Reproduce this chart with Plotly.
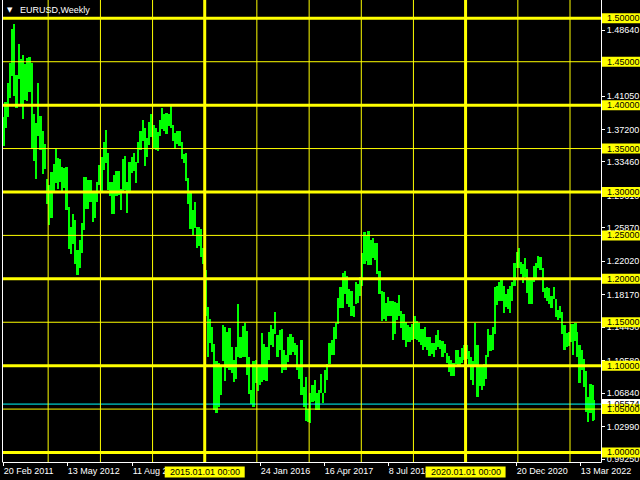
import plotly.graph_objects as go
import pandas as pd

# ---------------- data: EURUSD half-month highs / lows ----------------
# each year lists the halves (1st-15th, 16th-end) of each month in order
first_month = "2011-02"
last_month = "2022-06"

h2011 = [1.3860, 1.4040, 1.4250, 1.4490, 1.4880, 1.4940, 1.4350, 1.4700, 1.4530, 1.4580, 1.4470,
         1.4540, 1.4550, 1.4480, 1.3900, 1.3790, 1.4250, 1.3870, 1.3700, 1.3550, 1.3150]
l2011 = [1.3530, 1.3740, 1.3860, 1.4080, 1.4330, 1.4100, 1.3970, 1.4300, 1.4010, 1.3840, 1.4060,
         1.4050, 1.4150, 1.3500, 1.3360, 1.3150, 1.3650, 1.3480, 1.3210, 1.3260, 1.2860]
h2012 = [1.3080, 1.3230, 1.3320, 1.3490, 1.3390, 1.3380, 1.3285, 1.3280, 1.3285, 1.2830, 1.2600, 1.2750,
         1.2680, 1.2330, 1.2445, 1.2640, 1.3170, 1.3170, 1.3140, 1.3140, 1.3010, 1.3000, 1.3110, 1.3310]
l2012 = [1.2625, 1.2700, 1.3000, 1.3100, 1.3030, 1.3110, 1.3000, 1.3050, 1.2790, 1.2340, 1.2290, 1.2400,
         1.2170, 1.2040, 1.2130, 1.2300, 1.2560, 1.2800, 1.2800, 1.2880, 1.2660, 1.2700, 1.2880, 1.3080]
h2013 = [1.3400, 1.3580, 1.3710, 1.3450, 1.3110, 1.3110, 1.3200, 1.3240, 1.3240, 1.3040, 1.3380, 1.3420,
         1.3120, 1.3340, 1.3400, 1.3450, 1.3340, 1.3570, 1.3700, 1.3830, 1.3740, 1.3620, 1.3810, 1.3895]
l2013 = [1.2998, 1.3250, 1.3330, 1.3020, 1.2950, 1.2750, 1.2745, 1.2950, 1.2960, 1.2795, 1.3000, 1.3020,
         1.2755, 1.3000, 1.3220, 1.3240, 1.3105, 1.3330, 1.3480, 1.3590, 1.3295, 1.3400, 1.3540, 1.3630]
h2014 = [1.3770, 1.3740, 1.3690, 1.3825, 1.3967, 1.3900, 1.3905, 1.3900, 1.3995, 1.3770, 1.3675, 1.3700,
         1.3700, 1.3570, 1.3440, 1.3445, 1.3165, 1.2995, 1.2790, 1.2890, 1.2600, 1.2600, 1.2570, 1.2360]
l2014 = [1.3510, 1.3480, 1.3475, 1.3640, 1.3720, 1.3705, 1.3670, 1.3760, 1.3740, 1.3590, 1.3500, 1.3555,
         1.3535, 1.3375, 1.3330, 1.3130, 1.2860, 1.2570, 1.2500, 1.2580, 1.2360, 1.2375, 1.2250, 1.2165]
h2015 = [1.2100, 1.1680, 1.1535, 1.1450, 1.1250, 1.1050, 1.1035, 1.1000, 1.1467, 1.1440, 1.1385, 1.1435,
         1.1215, 1.1070, 1.1215, 1.1715, 1.1330, 1.1460, 1.1495, 1.1400, 1.1095, 1.0720, 1.1050, 1.1060]
l2015 = [1.1570, 1.1098, 1.1260, 1.1160, 1.0490, 1.0460, 1.0520, 1.0660, 1.1050, 1.0820, 1.0970, 1.0955,
         1.0910, 1.0810, 1.0850, 1.1100, 1.1090, 1.1100, 1.1105, 1.0895, 1.0675, 1.0560, 1.0520, 1.0800]
h2016 = [1.0990, 1.0990, 1.1375, 1.1250, 1.1220, 1.1390, 1.1465, 1.1420, 1.1615, 1.1350, 1.1415, 1.1425,
         1.1185, 1.1120, 1.1325, 1.1365, 1.1330, 1.1260, 1.1240, 1.0990, 1.1300, 1.0750, 1.0875, 1.0500]
l2016 = [1.0710, 1.0775, 1.0810, 1.0830, 1.0820, 1.1060, 1.1235, 1.1215, 1.1370, 1.1100, 1.1175, 1.0910,
         1.0950, 1.0950, 1.1045, 1.1120, 1.1160, 1.1120, 1.0950, 1.0850, 1.0660, 1.0520, 1.0365, 1.0352]
h2017 = [1.0685, 1.0775, 1.0830, 1.0680, 1.0715, 1.0905, 1.0690, 1.0950, 1.1020, 1.1265, 1.1295, 1.1445,
         1.1490, 1.1775, 1.1910, 1.2070, 1.2090, 1.2035, 1.1880, 1.1860, 1.1690, 1.1960, 1.1940, 1.2025]
l2017 = [1.0340, 1.0580, 1.0595, 1.0495, 1.0495, 1.0690, 1.0570, 1.0680, 1.0840, 1.1020, 1.1120, 1.1120,
         1.1310, 1.1475, 1.1660, 1.1660, 1.1825, 1.1715, 1.1670, 1.1575, 1.1555, 1.1710, 1.1720, 1.1800]
h2018 = [1.2300, 1.2535, 1.2510, 1.2555, 1.2445, 1.2475, 1.2410, 1.2415, 1.2095, 1.1860, 1.1850, 1.1720,
         1.1790, 1.1750, 1.1745, 1.1735, 1.1720, 1.1815, 1.1625, 1.1590, 1.1500, 1.1470, 1.1440, 1.1485]
l2018 = [1.1915, 1.2165, 1.2205, 1.2155, 1.2155, 1.2240, 1.2215, 1.2055, 1.1820, 1.1510, 1.1540, 1.1510,
         1.1575, 1.1575, 1.1300, 1.1370, 1.1530, 1.1570, 1.1430, 1.1300, 1.1215, 1.1270, 1.1270, 1.1300]
h2019 = [1.1570, 1.1515, 1.1490, 1.1420, 1.1420, 1.1450, 1.1325, 1.1325, 1.1265, 1.1265, 1.1350, 1.1410,
         1.1300, 1.1285, 1.1250, 1.1150, 1.1110, 1.1070, 1.1030, 1.1180, 1.1175, 1.1100, 1.1200, 1.1240]
l2019 = [1.1310, 1.1290, 1.1275, 1.1235, 1.1175, 1.1210, 1.1180, 1.1110, 1.1135, 1.1105, 1.1180, 1.1210,
         1.1195, 1.1100, 1.1150, 1.1025, 1.0925, 1.0880, 1.0880, 1.1020, 1.1010, 1.0990, 1.1035, 1.1065]
h2020 = [1.1240, 1.1170, 1.1095, 1.1055, 1.1495, 1.1240, 1.0990, 1.0990, 1.1020, 1.1120, 1.1420, 1.1350,
         1.1450, 1.1910, 1.1915, 1.1965, 1.2010, 1.1915, 1.1830, 1.1880, 1.1920, 1.1960, 1.2180, 1.2310]
l2020 = [1.1080, 1.0990, 1.0830, 1.0780, 1.1000, 1.0635, 1.0770, 1.0725, 1.0765, 1.0850, 1.1100, 1.1170,
         1.1185, 1.1370, 1.1695, 1.1750, 1.1750, 1.1610, 1.1680, 1.1650, 1.1605, 1.1745, 1.1920, 1.2130]
h2021 = [1.2350, 1.2190, 1.2170, 1.2245, 1.2110, 1.1990, 1.1990, 1.2150, 1.2180, 1.2265, 1.2255, 1.2120,
         1.1895, 1.1910, 1.1900, 1.1800, 1.1910, 1.1770, 1.1640, 1.1690, 1.1615, 1.1465, 1.1380, 1.1385]
l2021 = [1.2130, 1.2055, 1.1950, 1.2025, 1.1835, 1.1705, 1.1705, 1.1960, 1.1985, 1.2130, 1.2100, 1.1845,
         1.1780, 1.1750, 1.1705, 1.1665, 1.1770, 1.1565, 1.1525, 1.1550, 1.1370, 1.1185, 1.1220, 1.1230]
h2022 = [1.1480, 1.1480, 1.1495, 1.1390, 1.1235, 1.1185, 1.1075, 1.0935, 1.0640, 1.0790, 1.0775, 1.0600]
l2022 = [1.1270, 1.1120, 1.1280, 1.1105, 1.0805, 1.0945, 1.0760, 1.0470, 1.0350, 1.0460, 1.0360, 1.0380]

highs = h2011 + h2012 + h2013 + h2014 + h2015 + h2016 + h2017 + h2018 + h2019 + h2020 + h2021 + h2022
lows = l2011 + l2012 + l2013 + l2014 + l2015 + l2016 + l2017 + l2018 + l2019 + l2020 + l2021 + l2022

data_start = "2011-02-19"
data_end = "2022-06-20"

# price levels with horizontal lines (thick on round 0.1, thin on 0.05)
level_values = [1.00, 1.05, 1.10, 1.15, 1.20, 1.25, 1.30, 1.35, 1.40, 1.45, 1.50]
thick_levels = [1.00, 1.10, 1.20, 1.30, 1.40, 1.50]

# right price scale
scale_ticks = [0.99250, 1.02990, 1.06840, 1.10580, 1.14430, 1.18170, 1.22020,
               1.25870, 1.29610, 1.33460, 1.37200, 1.41050, 1.48640]
bid_price = 1.05574

# yearly vertical lines
year_lines = ["2012-01-01", "2013-01-01", "2014-01-01", "2015-01-01", "2016-01-01", "2017-01-01",
              "2018-01-01", "2019-01-01", "2020-01-01", "2021-01-01", "2022-01-01"]
thick_years = ["2015-01-01", "2020-01-01"]
thick_year_labels = ["2015.01.01 00:00", "2020.01.01 00:00"]

# time scale labels
time_ticks = ["2011-02-20", "2012-05-13", "2013-08-11", "2016-01-24",
              "2017-04-16", "2018-07-08", "2020-12-20", "2022-03-13"]
time_labels = ["20 Feb 2011", "13 May 2012", "11 Aug 2013", "24 Jan 2016",
               "16 Apr 2017", "8 Jul 2018", "20 Dec 2020", "13 Mar 2022"]

title_text = "EURUSD,Weekly"

# ---------------- geometry ----------------
W, H = 640, 480
ML, MR, MT, MB = 3, 39, 0, 18
PW, PH = W - ML - MR, H - MT - MB          # 598 x 462
YMIN, YMAX = 0.98906, 1.52107
x0 = pd.Timestamp(data_start)
x1 = x0 + pd.Timedelta(days=7 * PW)

FONT = "Liberation Sans"
YEL = "#FFFF00"
GREEN = "#00FF00"


def px_x(p):      # pixel -> paper x
    return (p - ML) / PW


def px_y(p):      # pixel -> paper y
    return (MT + PH - p) / PH


def val_y(v):     # price -> paper y
    return (v - YMIN) / (YMAX - YMIN)


def date_x(d):    # date -> paper x
    return (pd.Timestamp(d) - x0) / (x1 - x0)


# half-month period boundaries
d_start, d_end = pd.Timestamp(data_start), pd.Timestamp(data_end)
halves = []
for p in pd.period_range(first_month, last_month, freq="M"):
    a = p.start_time
    b = a + pd.Timedelta(days=15)
    c = (p + 1).start_time
    for s, e in ((a, b), (b, c)):
        if e <= d_start or s >= d_end:
            continue
        halves.append((max(s, d_start), min(e, d_end)))

mids, widths, bases, spans = [], [], [], []
for (s, e), h, l in zip(halves, highs, lows):
    mids.append(s + (e - s) / 2)
    widths.append((e - s).total_seconds() * 1000)
    bases.append(l)
    spans.append(h - l)

fig = go.Figure()
fig.add_trace(go.Bar(
    x=mids, y=spans, base=bases, width=widths,
    marker=dict(color=GREEN, line=dict(width=0)),
    hoverinfo="skip", showlegend=False,
))

shapes = []
# bid line
shapes.append(dict(type="line", xref="paper", yref="y", x0=0, x1=1, y0=bid_price, y1=bid_price,
                   line=dict(color="#00FFFF", width=1), layer="above"))
# horizontal level lines
for v in level_values:
    w = 3 if v in thick_levels else 1
    shapes.append(dict(type="line", xref="paper", yref="y", x0=0, x1=1, y0=v, y1=v,
                       line=dict(color=YEL, width=w), layer="above"))
# vertical year lines
for d in year_lines:
    w = 3 if d in thick_years else 1
    shapes.append(dict(type="line", xref="paper", yref="paper", x0=date_x(d), x1=date_x(d),
                       y0=0, y1=1, line=dict(color=YEL, width=w), layer="above"))
# borders
shapes.append(dict(type="line", xref="paper", yref="paper", x0=px_x(2.5), x1=px_x(2.5), y0=0, y1=1,
                   line=dict(color="white", width=1), layer="above"))
shapes.append(dict(type="line", xref="paper", yref="paper", x0=px_x(601.5), x1=px_x(601.5), y0=px_y(462.5), y1=1,
                   line=dict(color="white", width=1), layer="above"))
shapes.append(dict(type="line", xref="paper", yref="paper", x0=px_x(2.5), x1=px_x(601.5), y0=px_y(462.5), y1=px_y(462.5),
                   line=dict(color="white", width=1), layer="above"))

annotations = []
# bid label (white box)
shapes.append(dict(type="rect", xref="paper", yref="paper", x0=px_x(602), x1=px_x(640),
                   y0=val_y(bid_price) - 5 / PH, y1=val_y(bid_price) + 5 / PH,
                   fillcolor="white", line=dict(width=0), layer="above"))
annotations.append(dict(xref="paper", yref="paper", x=px_x(605), y=val_y(bid_price),
                        xanchor="left", yanchor="middle", text=f"{bid_price:.5f}", showarrow=False,
                        font=dict(family=FONT, size=9, color="black")))
# level labels (yellow boxes)
for v in level_values:
    shapes.append(dict(type="rect", xref="paper", yref="paper", x0=px_x(602), x1=px_x(640),
                       y0=val_y(v) - 5 / PH, y1=val_y(v) + 5 / PH,
                       fillcolor=YEL, line=dict(width=0), layer="above"))
    annotations.append(dict(xref="paper", yref="paper", x=px_x(605), y=val_y(v),
                            xanchor="left", yanchor="middle", text=f"{v:.5f}", showarrow=False,
                            font=dict(family=FONT, size=9, color="black")))
# date labels on thick vertical lines
for d, t in zip(thick_years, thick_year_labels):
    cx = date_x(d)
    shapes.append(dict(type="rect", xref="paper", yref="paper", x0=cx - 40 / PW, x1=cx + 40 / PW,
                       y0=px_y(477.5), y1=px_y(466.5), fillcolor=YEL, line=dict(width=0), layer="above"))
    annotations.append(dict(xref="paper", yref="paper", x=cx, y=px_y(472), xanchor="center",
                            yanchor="middle", text=t, showarrow=False,
                            font=dict(family=FONT, size=9, color="black")))
# title
annotations.append(dict(xref="paper", yref="paper", x=px_x(10), y=px_y(10), xanchor="center",
                        yanchor="middle", text="▼", showarrow=False,
                        font=dict(family="DejaVu Sans", size=7, color="white")))
annotations.append(dict(xref="paper", yref="paper", x=px_x(18), y=px_y(10), xanchor="left",
                        yanchor="middle", text=title_text, showarrow=False,
                        font=dict(family=FONT, size=9, color="white")))

fig.update_layout(
    width=W, height=H,
    margin=dict(l=ML, r=MR, t=MT, b=MB, pad=0),
    paper_bgcolor="black", plot_bgcolor="black",
    barmode="overlay", bargap=0,
    showlegend=False,
    shapes=shapes, annotations=annotations,
    xaxis=dict(type="date", range=[x0, x1], showgrid=False, zeroline=False, showline=False,
               tickvals=[pd.Timestamp(t) for t in time_ticks], ticktext=time_labels,
               ticks="outside", ticklen=3, tickcolor="white", tickwidth=1,
               ticklabelposition="outside right",
               tickfont=dict(family=FONT, size=9, color="white"), fixedrange=True),
    yaxis=dict(side="right", range=[YMIN, YMAX], showgrid=False, zeroline=False, showline=False,
               tickvals=scale_ticks, ticktext=[f"{v:.5f}" for v in scale_ticks],
               ticks="outside", ticklen=3, tickcolor="white", tickwidth=1,
               tickfont=dict(family=FONT, size=9, color="white"), fixedrange=True),
)

fig.write_html("out.html", config={"displayModeBar": False},
               post_script="document.body.style.margin='0';document.body.style.background='black';")
